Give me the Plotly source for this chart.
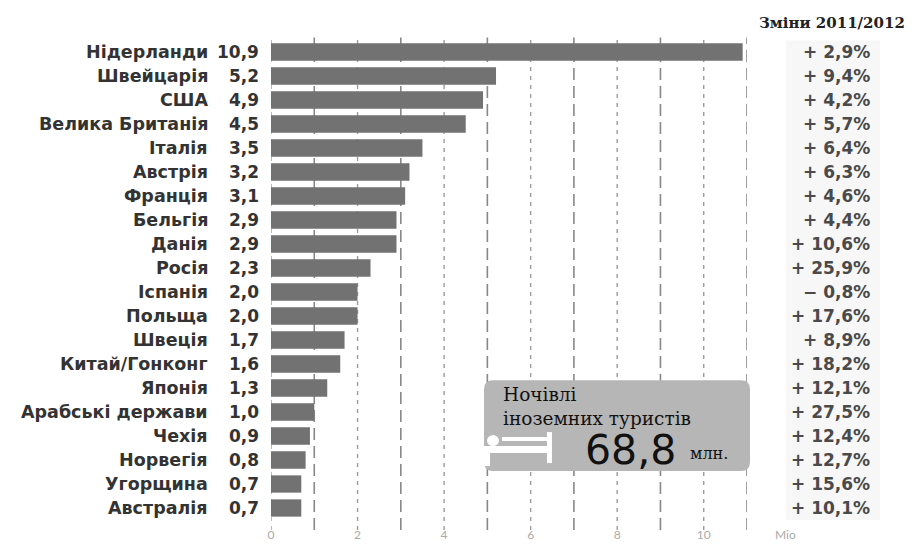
import plotly.graph_objects as go

countries = ["Нідерланди", "Швейцарія", "США", "Велика Британія", "Італія", "Австрія",
             "Франція", "Бельгія", "Данія", "Росія", "Іспанія", "Польща", "Швеція",
             "Китай/Гонконг", "Японія", "Арабські держави", "Чехія", "Норвегія",
             "Угорщина", "Австралія"]
values = [10.9, 5.2, 4.9, 4.5, 3.5, 3.2, 3.1, 2.9, 2.9, 2.3, 2.0, 2.0, 1.7, 1.6, 1.3,
          1.0, 0.9, 0.8, 0.7, 0.7]
changes = ["+ 2,9%", "+ 9,4%", "+ 4,2%", "+ 5,7%", "+ 6,4%", "+ 6,3%", "+ 4,6%",
           "+ 4,4%", "+ 10,6%", "+ 25,9%", "− 0,8%", "+ 17,6%", "+ 8,9%", "+ 18,2%",
           "+ 12,1%", "+ 27,5%", "+ 12,4%", "+ 12,7%", "+ 15,6%", "+ 10,1%"]
tick_vals = [0, 2, 4, 6, 8, 10]
tick_text = ["0", "2", "4", "6", "8", "10"]
grid_vals = [0, 1, 2, 3, 4, 5, 6, 7, 8, 9, 10, 11]
total_value = "68,8"

W, H = 912, 545
L, R, T, B = 271, 747, 39.5, 520


def px(x):
    return (x - L) / (R - L)


def py(y):
    return (B - y) / (B - T)


fig = go.Figure()
fig.add_trace(go.Bar(
    y=countries, x=values, orientation="h", width=0.72,
    marker=dict(color="#727272", line=dict(width=0)),
    hoverinfo="skip",
))

shapes = []
# light band behind the change column
shapes.append(dict(type="rect", xref="paper", yref="paper", x0=px(786), x1=px(880),
                   y0=py(40), y1=py(520), fillcolor="#f7f7f7", line=dict(width=0),
                   layer="below"))
for g in grid_vals:
    odd = g % 2 == 1
    shapes.append(dict(type="line", xref="x", yref="paper", x0=g, x1=g,
                       y0=py(530), y1=py(37),
                       line=dict(color="#888888" if odd else "#9c9c9c",
                                 width=1.6 if odd else 1.4,
                                 dash="12px,6px" if odd else "4px,5px"),
                       layer="below"))

# info box (rounded rect)
bx0, bx1, by0, by1, rad = 484, 750, 380, 471, 9
rx = rad / (R - L)
ry = rad / (B - T)
X0, X1, Y0, Y1 = px(bx0), px(bx1), py(by1), py(by0)
path = (f"M {X0+rx},{Y1} L {X1-rx},{Y1} Q {X1},{Y1} {X1},{Y1-ry} "
        f"L {X1},{Y0+ry} Q {X1},{Y0} {X1-rx},{Y0} L {X0+rx},{Y0} "
        f"Q {X0},{Y0} {X0},{Y0+ry} L {X0},{Y1-ry} Q {X0},{Y1} {X0+rx},{Y1} Z")
shapes.append(dict(type="path", xref="paper", yref="paper", path=path,
                   fillcolor="#b6b6b6", line=dict(width=0), layer="above"))
# bed icon (white)
for (x0, y0, x1, y1) in [(502, 437, 548, 441), (482, 446, 549, 453), (547, 432, 552, 463),
                         (482, 453, 490, 466)]:
    shapes.append(dict(type="rect", xref="paper", yref="paper", x0=px(x0), x1=px(x1),
                       y0=py(y1), y1=py(y0), fillcolor="white", line=dict(width=0),
                       layer="above"))
shapes.append(dict(type="circle", xref="paper", yref="paper", x0=px(487), x1=px(499),
                   y0=py(446), y1=py(435), fillcolor="white", line=dict(width=0),
                   layer="above"))

annotations = []
for c, v, ch in zip(countries, values, changes):
    annotations.append(dict(x=px(210), y=c, xref="paper", yref="y", text=c,
                            showarrow=False, xanchor="right", yanchor="middle",
                            font=dict(family="DejaVu Sans", size=17.5, color="#333333",
                                      weight="bold")))
    annotations.append(dict(x=px(261), y=c, xref="paper", yref="y",
                            text=f"{v:.1f}".replace(".", ","),
                            showarrow=False, xanchor="right", yanchor="middle",
                            font=dict(family="DejaVu Sans", size=17, color="#333333",
                                      weight="bold")))
    annotations.append(dict(x=px(872), y=c, xref="paper", yref="y", text=ch,
                            showarrow=False, xanchor="right", yanchor="middle",
                            font=dict(family="DejaVu Sans", size=17, color="#4a4a4a",
                                      weight="bold")))

annotations.append(dict(x=px(907), y=py(22), xref="paper", yref="paper",
                        text="Зміни 2011/2012", showarrow=False, xanchor="right",
                        yanchor="middle",
                        font=dict(family="DejaVu Serif", size=15, color="#222222",
                                  weight="bold")))
annotations.append(dict(x=px(785), y=py(535), xref="paper", yref="paper", text="Mio",
                        showarrow=False, xanchor="center", yanchor="middle",
                        font=dict(family="Lato", size=12, color="#aaaaaa")))
annotations.append(dict(x=px(501), y=py(394), xref="paper", yref="paper",
                        text="Ночівлі", showarrow=False, xanchor="left", yanchor="middle",
                        font=dict(family="DejaVu Serif", size=18.5, color="#111111")))
annotations.append(dict(x=px(501), y=py(418), xref="paper", yref="paper",
                        text="іноземних туристів", showarrow=False, xanchor="left",
                        yanchor="middle",
                        font=dict(family="DejaVu Serif", size=18.5, color="#111111")))
annotations.append(dict(x=px(630), y=py(450), xref="paper", yref="paper",
                        text=total_value, showarrow=False, xanchor="center",
                        yanchor="middle",
                        font=dict(family="DejaVu Sans", size=41, color="#111111")))
annotations.append(dict(x=px(709), y=py(453), xref="paper", yref="paper",
                        text="млн.", showarrow=False, xanchor="center", yanchor="middle",
                        font=dict(family="DejaVu Serif", size=16, color="#111111")))

fig.update_layout(
    width=W, height=H,
    margin=dict(l=L, r=W - R, t=T, b=H - B, autoexpand=False),
    paper_bgcolor="white", plot_bgcolor="white",
    showlegend=False,
    shapes=shapes, annotations=annotations,
    xaxis=dict(range=[0, 11], tickvals=tick_vals, ticktext=tick_text, showgrid=False,
               zeroline=False, showline=False, ticks="", ticklabelstandoff=6,
               automargin=False,
               tickfont=dict(family="Lato", size=12, color="#aaaaaa"), fixedrange=True),
    yaxis=dict(autorange="reversed", showticklabels=False, showgrid=False,
               zeroline=False, showline=False, ticks="", fixedrange=True,
               automargin=False),
)

fig.write_html("out.html")
